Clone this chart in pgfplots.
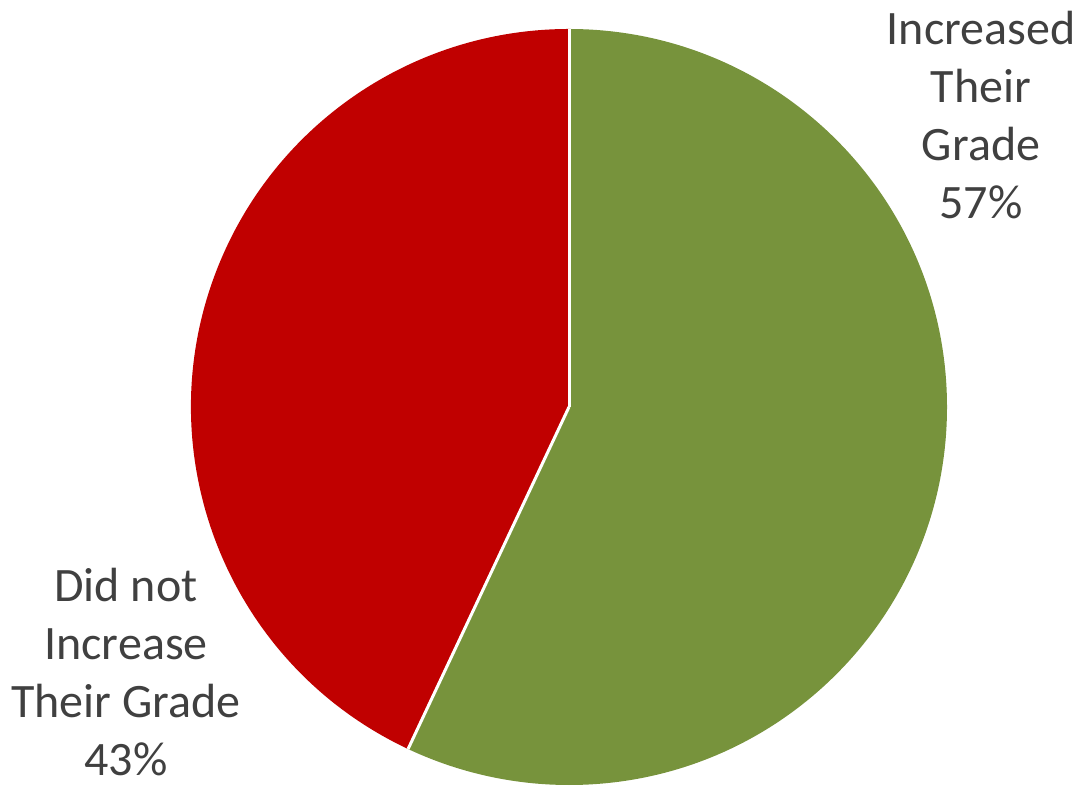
\documentclass[border=0pt]{standalone}
\usepackage{pgfplots}
\pgfplotsset{compat=1.18}
\usepackage{fontspec}
\setmainfont{Carlito}
\definecolor{slicegreen}{HTML}{77933C}
\definecolor{slicered}{HTML}{C00000}
\definecolor{labelgray}{HTML}{404040}

\begin{document}
\begin{tikzpicture}
% shares in percent
\pgfmathsetmacro{\incr}{57}
\pgfmathsetmacro{\notincr}{43}
\pgfmathsetmacro{\splitangle}{90-3.6*\incr}
\begin{axis}[
    width=540pt, height=393pt, scale only axis,
    xmin=0, xmax=1080, ymin=0, ymax=786,
    hide axis, clip=false,
]
% slices (clockwise from 12 o'clock)
\fill[slicegreen] (axis cs:569,379) -- ++(90:189pt)
    arc[start angle=90, end angle=\splitangle, radius=189pt] -- cycle;
\fill[slicered] (axis cs:569,379) -- ++(\splitangle:189pt)
    arc[start angle=\splitangle, end angle=-270, radius=189pt] -- cycle;
\draw[white, line width=1.5pt] (axis cs:569,379) -- ++(90:189pt);
\draw[white, line width=1.5pt] (axis cs:569,379) -- ++(\splitangle:189pt);

% labels
\node[labelgray, align=center, font=\fontsize{24}{29}\selectfont]
    at (axis cs:981,671) {Increased\\Their\\Grade\\57\%};
\node[labelgray, align=center, font=\fontsize{24}{29}\selectfont]
    at (axis cs:126,114) {Did not\\Increase\\Their Grade\\43\%};
\end{axis}
\pgfresetboundingbox
\path (0,0) rectangle (540pt,393pt);
\end{tikzpicture}
\end{document}
